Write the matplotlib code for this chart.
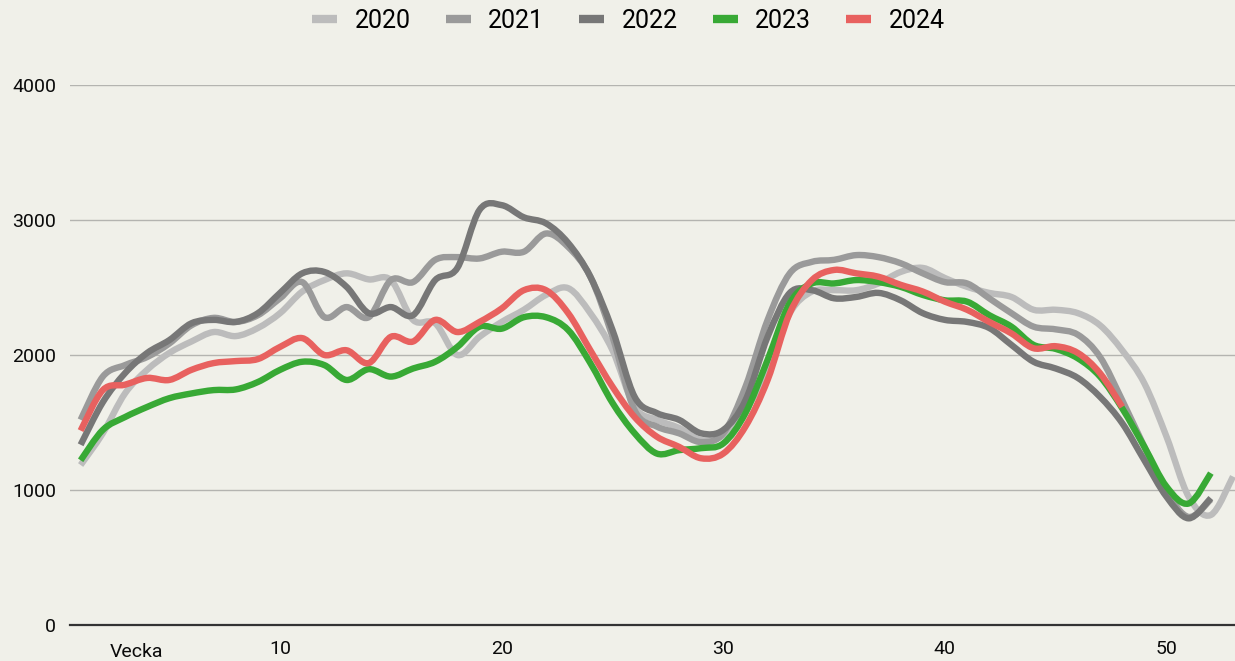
import matplotlib.pyplot as plt
import numpy as np
from matplotlib.lines import Line2D
from matplotlib.path import Path
from matplotlib.patches import PathPatch

plt.rcParams['font.family'] = ['Roboto', 'DejaVu Sans']

# --- Data (per week) ---
weeks_2020 = list(range(1, 54))
v2020 = [1185, 1420, 1715, 1890, 2015, 2100, 2170, 2140, 2200, 2310,
         2470, 2555, 2605, 2560, 2555, 2260, 2235, 2000, 2135, 2245,
         2335, 2445, 2495, 2310, 2035, 1615, 1520, 1460, 1370, 1405,
         1590, 1890, 2310, 2470, 2480, 2480, 2530, 2615, 2645, 2570,
         2505, 2460, 2430, 2335, 2335, 2310, 2220, 2035, 1790, 1395,
         950, 815, 1100]

weeks_2021 = list(range(1, 53))
v2021 = [1520, 1840, 1925, 1985, 2085, 2220, 2275, 2245, 2295, 2420,
         2540, 2280, 2355, 2280, 2555, 2540, 2705, 2725, 2715, 2765,
         2765, 2900, 2800, 2580, 2135, 1590, 1470, 1420, 1355, 1420,
         1765, 2260, 2605, 2690, 2705, 2740, 2725, 2680, 2605, 2540,
         2530, 2420, 2310, 2210, 2190, 2150, 1985, 1665, 1320, 990,
         800, 930]

weeks_2022 = list(range(1, 53))
v2022 = [1335, 1650, 1865, 2015, 2110, 2235, 2260, 2245, 2310, 2460,
         2605, 2615, 2505, 2310, 2355, 2295, 2555, 2645, 3075, 3110,
         3020, 2975, 2830, 2580, 2185, 1690, 1570, 1520, 1420, 1445,
         1665, 2135, 2460, 2480, 2420, 2430, 2460, 2405, 2310, 2260,
         2245, 2200, 2075, 1950, 1900, 1830, 1690, 1495, 1220, 950,
         790, 940]

weeks_2023 = list(range(1, 53))
v2023 = [1220, 1445, 1540, 1615, 1680, 1715, 1740, 1745, 1800, 1890,
         1950, 1925, 1815, 1895, 1840, 1900, 1950, 2060, 2210, 2195,
         2280, 2280, 2185, 1940, 1645, 1420, 1270, 1295, 1310, 1345,
         1570, 1965, 2385, 2530, 2530, 2555, 2540, 2505, 2445, 2405,
         2395, 2295, 2210, 2075, 2045, 1975, 1840, 1605, 1320, 1025,
         900, 1125]

weeks_2024 = list(range(1, 49))
v2024 = [1440, 1740, 1780, 1830, 1815, 1890, 1940, 1955, 1970, 2060,
         2125, 2000, 2035, 1940, 2135, 2100, 2260, 2170, 2245, 2345,
         2480, 2480, 2310, 2035, 1765, 1540, 1395, 1320, 1235, 1270,
         1470, 1815, 2310, 2555, 2630, 2605, 2580, 2520, 2470, 2395,
         2335, 2245, 2160, 2050, 2065, 2015, 1865, 1615]

years = ['2020', '2021', '2022', '2023', '2024']
colors = ['#bcbcbc', '#9a9a9a', '#777777', '#38a935', '#e8615f']
x_ticks = [10, 20, 30, 40, 50]
y_ticks = [0, 1000, 2000, 3000, 4000]

bg = '#f0f0e9'


def smooth_path(xs, ys):
    """Curved path through the weekly points (Catmull-Rom as Bezier)."""
    p = np.column_stack([xs, ys]).astype(float)
    ext = np.vstack([p[0], p, p[-1]])
    verts = [p[0]]
    codes = [Path.MOVETO]
    for i in range(len(p) - 1):
        p0, p1, p2, p3 = ext[i], ext[i + 1], ext[i + 2], ext[i + 3]
        verts += [p1 + (p2 - p0) / 6, p2 - (p3 - p1) / 6, p2]
        codes += [Path.CURVE4] * 3
    return Path(verts, codes)


fig = plt.figure(figsize=(12.35, 6.61), dpi=100, facecolor=bg)
ax = fig.add_axes([70 / 1235, 36 / 661, 1 - 70 / 1235, (625 - 85) / 661])
ax.set_facecolor(bg)

series = [(weeks_2020, v2020), (weeks_2021, v2021), (weeks_2022, v2022),
          (weeks_2023, v2023), (weeks_2024, v2024)]
for (wk, vals), col in zip(series, colors):
    ax.add_patch(PathPatch(smooth_path(wk, vals), fill=False, edgecolor=col,
                           lw=4.6, capstyle='butt', joinstyle='round',
                           clip_on=False))

ax.set_xlim(0.52, 53.09)
ax.set_ylim(0, 4000)

# grid
for yv in y_ticks[1:]:
    ax.axhline(yv, color='#b4b4b0', lw=1.0, zorder=0)
ax.axhline(0, color='#333333', lw=1.6, zorder=0, clip_on=False)

for s in ax.spines.values():
    s.set_visible(False)

ax.set_xticks(x_ticks)
ax.set_yticks(y_ticks)
ax.set_xticklabels([str(t) for t in x_ticks])
ax.set_yticklabels([str(t) for t in y_ticks])
ax.tick_params(axis='x', length=0, pad=11, labelsize=14, labelcolor='#0a0a0a')
ax.tick_params(axis='y', length=0, pad=10, labelsize=14, labelcolor='#0a0a0a')

ax.text(3.5, -0.034, 'Vecka', transform=ax.get_xaxis_transform(),
        ha='center', va='top', fontsize=14, color='#0a0a0a')

# legend
handles = [Line2D([0], [0], color=c, lw=6, solid_capstyle='butt') for c in colors]
fig.legend(handles, years, loc='center', bbox_to_anchor=(0.509, 0.968), ncol=5,
           frameon=False, fontsize=18, handlelength=1.0, handletextpad=0.7,
           columnspacing=1.4)

plt.savefig('out.png', dpi=100, facecolor=bg)
